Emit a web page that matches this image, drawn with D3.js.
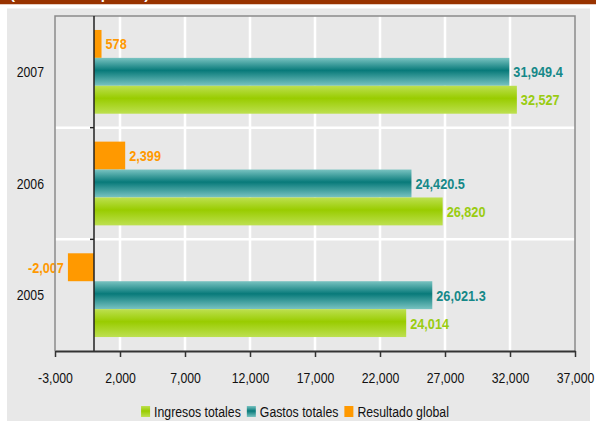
<!DOCTYPE html>
<html><head><meta charset="utf-8">
<script src="https://cdn.jsdelivr.net/npm/d3@7"></script>
<style>body{margin:0;background:#fff;}svg{display:block;}</style>
</head><body>
<svg id="c" width="596" height="421"></svg>
<script>
const years = ["2007","2006","2005"];
const seriesNames = ["Resultado global","Gastos totales","Ingresos totales"];
const ingresos = [32527, 26820, 24014];
const gastos = [31949.4, 24420.5, 26021.3];
const resultado = [578, 2399, -2007];
const xTicks = [-3000,2000,7000,12000,17000,22000,27000,32000,37000];
const legendOrder = ["Ingresos totales","Gastos totales","Resultado global"];
const title = "(Millones de pesos)";

const svg = d3.select("#c");
const FONT = "'Liberation Sans',Arial,sans-serif";
const SX = 0.82; // narrow look
const L=55, R=575, T=16, B=351;
const x = d3.scaleLinear().domain([-3000,37000]).range([L,R]);
const y = d3.scaleBand().domain(years).range([T,B]);
const yi = d3.scaleBand().domain(seriesNames).range([0,y.bandwidth()]).paddingOuter(0.5);
const fmt = v => d3.format(",")(v).replace("\u2212","-");

const defs = svg.append("defs");
function grad(id, edge, mid){
  const g = defs.append("linearGradient").attr("id",id).attr("x1",0).attr("y1",0).attr("x2",0).attr("y2",1);
  g.append("stop").attr("offset","0%").attr("stop-color",edge);
  g.append("stop").attr("offset","45%").attr("stop-color",mid);
  g.append("stop").attr("offset","100%").attr("stop-color",edge);
}
grad("gTeal","#79c3c1","#087a7a");
grad("gGreen","#bde050","#99cc00");
const fills = {"Resultado global":"#ff9900","Gastos totales":"url(#gTeal)","Ingresos totales":"url(#gGreen)"};
const labelColors = {"Resultado global":"#ff9900","Gastos totales":"#168888","Ingresos totales":"#99cc11"};

// header (title strip, mostly cropped as in the reference)
svg.append("rect").attr("x",0).attr("y",0).attr("width",596).attr("height",4.5).attr("fill","#993300");
svg.append("text").attr("x",10).attr("y",-1).attr("fill","#fff").attr("font-family",FONT)
  .attr("font-weight","bold").attr("font-size",15).text(title);
svg.append("rect").attr("x",0).attr("y",4.5).attr("width",596).attr("height",4).attr("fill","#fff");
// background
svg.append("rect").attr("x",7).attr("y",8.5).attr("width",583).attr("height",421-8.5).attr("fill","#e8e8e8");

// gridlines
svg.append("g").selectAll("line").data(xTicks.slice(1,-1)).join("line")
  .attr("x1",d=>x(d)).attr("x2",d=>x(d)).attr("y1",T).attr("y2",B)
  .attr("stroke","#fff").attr("stroke-width",2.5);
svg.append("g").selectAll("line").data(years.slice(1)).join("line")
  .attr("x1",L).attr("x2",R).attr("y1",d=>y(d)).attr("y2",d=>y(d))
  .attr("stroke","#fff").attr("stroke-width",2.5);

// data rows
const rows = [];
years.forEach((yr,i)=>{
  rows.push({year:yr, s:"Resultado global", v:resultado[i]});
  rows.push({year:yr, s:"Gastos totales", v:gastos[i]});
  rows.push({year:yr, s:"Ingresos totales", v:ingresos[i]});
});
svg.append("g").selectAll("rect").data(rows).join("rect")
  .attr("x",d=>Math.min(x(0),x(d.v))).attr("width",d=>Math.abs(x(d.v)-x(0)))
  .attr("y",d=>y(d.year)+yi(d.s)).attr("height",yi.bandwidth())
  .attr("fill",d=>fills[d.s]);
svg.append("g").selectAll("text").data(rows).join("text")
  .attr("transform",d=>`translate(${d.v<0 ? x(d.v)-4 : x(d.v)+4},${y(d.year)+yi(d.s)+yi.bandwidth()/2+5.5}) scale(${SX},1)`)
  .attr("text-anchor",d=>d.v<0?"end":"start")
  .attr("font-family",FONT).attr("font-weight","bold").attr("font-size",15.5)
  .attr("fill",d=>labelColors[d.s]).text(d=>fmt(d.v));

// border
svg.append("path").attr("d",`M${L},${B}V${T}H${R}V${B}`).attr("fill","none").attr("stroke","#8a8a8a").attr("stroke-width",1.5);
// zero line + ticks at band boundaries
svg.append("line").attr("x1",x(0)).attr("x2",x(0)).attr("y1",T).attr("y2",B).attr("stroke","#222").attr("stroke-width",1.5);
svg.append("g").selectAll("line").data(years.slice(1)).join("line")
  .attr("x1",x(0)-4).attr("x2",x(0)).attr("y1",d=>y(d)).attr("y2",d=>y(d)).attr("stroke","#222").attr("stroke-width",1.5);

// x axis
const ax = svg.append("g").attr("transform",`translate(0,${B})`)
  .call(d3.axisBottom(x).tickValues(xTicks).tickFormat(fmt).tickSize(6).tickPadding(15.5).tickSizeOuter(0));
ax.select(".domain").attr("stroke","#333").attr("stroke-width",2);
ax.selectAll(".tick line").attr("stroke","#333").attr("stroke-width",1.5);
ax.selectAll("text").attr("font-family",FONT).attr("font-size",15).attr("fill","#111")
  .attr("transform",`scale(${SX},1)`);

// y labels
svg.append("g").selectAll("text").data(years).join("text")
  .attr("transform",d=>`translate(44,${y(d)+y.bandwidth()/2+5.3}) scale(${SX},1)`).attr("text-anchor","end")
  .attr("font-family",FONT).attr("font-size",15).attr("fill","#111").text(d=>d);

// legend
const lg = svg.append("g");
let cx = 0;
legendOrder.forEach(n=>{
  const g = lg.append("g").attr("transform",`translate(${cx},0)`);
  g.append("rect").attr("x",0).attr("y",-11).attr("width",9).attr("height",11).attr("fill",fills[n]);
  const t = g.append("text").attr("transform",`translate(13,0) scale(${SX},1)`).attr("font-family",FONT)
    .attr("font-size",15).attr("fill","#111").text(n);
  cx += 13 + t.node().getComputedTextLength()*SX + 6;
});
const totalW = cx - 6;
lg.attr("transform",`translate(${295 - totalW/2},417)`);
</script>
</body></html>
